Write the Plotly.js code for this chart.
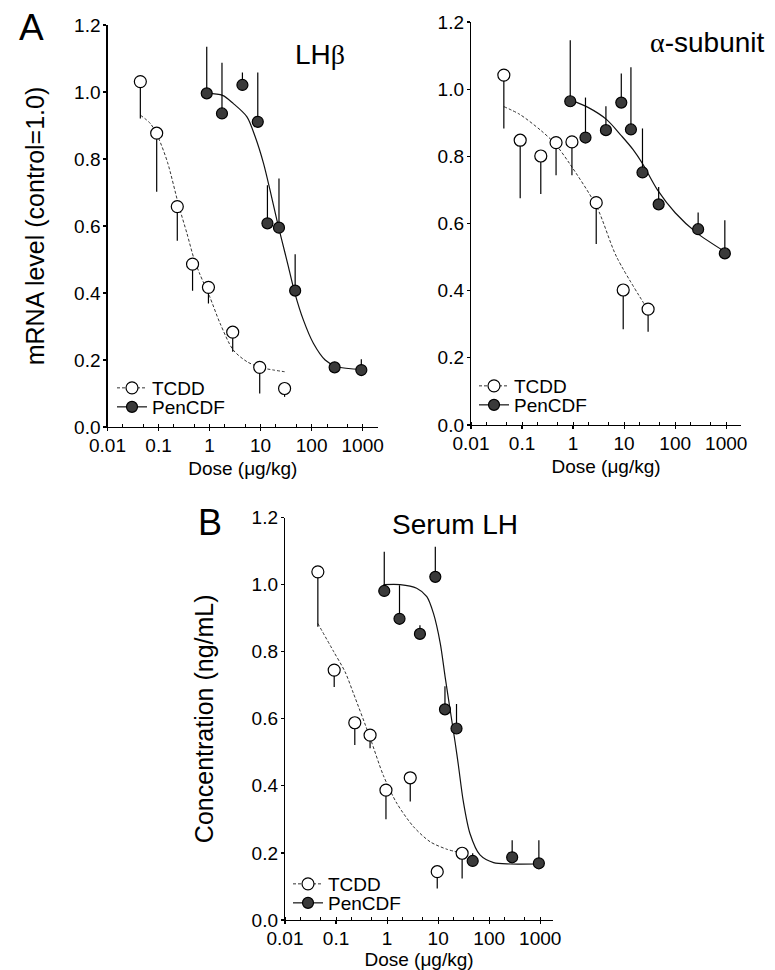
<!DOCTYPE html>
<html><head><meta charset="utf-8">
<script src="https://cdn.plot.ly/plotly-3.0.1.min.js"></script>
<style>html,body{margin:0;padding:0;background:#fff}</style>
</head><body><div id="chart" style="width:775px;height:970px"></div>
<script>
// ---------- data ----------
const tcddDose = [0.044, 0.092, 0.233, 0.464, 0.95, 2.84, 9.6, 29.5];
const penDose  = [0.88, 1.75, 4.4, 8.8, 13.6, 22.9, 47.5, 282, 940];

// LH beta
const lhbTcddVal  = [1.031, 0.877, 0.658, 0.486, 0.417, 0.283, 0.178, 0.115];
const lhbTcddErr  = [0.110, 0.175, 0.102, 0.079, 0.048, 0.058, 0.078, 0.025];
const lhbPenVal   = [0.996, 0.936, 1.021, 0.911, 0.608, 0.595, 0.407, 0.178, 0.170];
const lhbPenErr   = [0.139, 0.151, 0.037, 0.147, 0.114, 0.147, 0.109, 0.010, 0.032];
const lhbTcddFitDose = [0.044, 0.07, 0.1, 0.15, 0.25, 0.36, 0.5, 0.65, 1.0, 1.6, 2.9, 5.4, 9.8, 18, 29.5];
const lhbTcddFitVal  = [0.931, 0.905, 0.862, 0.79, 0.66, 0.578, 0.50, 0.455, 0.39, 0.31, 0.23, 0.195, 0.178, 0.170, 0.165];
const lhbPenFitDose = [0.88, 1.8, 2.9, 5.4, 7.8, 11.4, 15.3, 20.8, 26, 35, 47, 69, 108, 184, 310, 1000];
const lhbPenFitVal  = [0.996, 0.99, 0.966, 0.926, 0.867, 0.787, 0.707, 0.618, 0.558, 0.479, 0.399, 0.319, 0.250, 0.200, 0.180, 0.172];

// alpha subunit
const alphaTcddVal = [1.042, 0.848, 0.801, 0.841, 0.843, 0.662, 0.402, 0.345];
const alphaTcddErr = [0.159, 0.173, 0.113, 0.097, 0.099, 0.123, 0.117, 0.067];
const alphaPenVal  = [0.964, 0.856, 0.878, 0.960, 0.880, 0.752, 0.657, 0.583, 0.511];
const alphaPenErr  = [0.182, 0.119, 0.071, 0.087, 0.185, 0.131, 0.052, 0.050, 0.099];
const alphaTcddFitDose = [0.044, 0.09, 0.23, 0.44, 0.85, 2.9, 7.1, 29.5];
const alphaTcddFitVal  = [0.948, 0.925, 0.878, 0.838, 0.779, 0.650, 0.501, 0.342];
const alphaPenFitDose = [0.88, 2, 4.5, 9, 15, 23, 45, 100, 265, 940];
const alphaPenFitVal  = [0.968, 0.945, 0.91, 0.86, 0.82, 0.778, 0.70, 0.632, 0.572, 0.516];

// serum LH
const serumTcddVal = [1.038, 0.745, 0.588, 0.551, 0.387, 0.424, 0.144, 0.199];
const serumTcddErr = [0.164, 0.050, 0.066, 0.039, 0.087, 0.071, 0.050, 0.075];
const serumPenVal  = [0.981, 0.898, 0.853, 1.023, 0.628, 0.571, 0.176, 0.187, 0.169];
const serumPenErr  = [0.117, 0.100, 0.026, 0.090, 0.069, 0.073, 0.023, 0.051, 0.069];
const serumTcddFitDose = [0.044, 0.09, 0.15, 0.22, 0.46, 0.85, 1.55, 3.3, 7.0, 14.8, 28];
const serumTcddFitVal  = [0.884, 0.80, 0.74, 0.675, 0.545, 0.43, 0.348, 0.278, 0.233, 0.211, 0.200];
const serumPenFitDose = [0.85, 1.8, 3.8, 6.0, 8.1, 11, 13.7, 17.2, 21.5, 25, 31, 42, 66, 122, 258, 940];
const serumPenFitVal  = [1.0, 1.0, 0.989, 0.964, 0.914, 0.825, 0.725, 0.626, 0.53, 0.46, 0.355, 0.258, 0.194, 0.171, 0.167, 0.167];

const xTickVals = [0.01, 0.1, 1, 10, 100, 1000];
const xTickText = ['0.01', '0.1', '1', '10', '100', '1000'];
const seriesNames = ['TCDD', 'PenCDF'];

// ---------- styling ----------
const FONT = 'Liberation Sans, Arial, Helvetica, sans-serif';
const tcddMarker = {symbol:'circle', size:12, color:'#ffffff', line:{color:'#000', width:1.2}};
const penMarker  = {symbol:'circle', size:11, color:'#3a3a3a', line:{color:'#000', width:1.2}};
const tcddLine = {color:'#333', width:1, dash:'3px,2px', shape:'spline', smoothing:0.8};
const penLine  = {color:'#111', width:1.2, shape:'spline', smoothing:0.8};

function zeros(a){ return a.map(() => 0); }

function panel(ax, tDose, tVal, tErr, pDose, pVal, pErr, tfx, tfy, pfx, pfy, legT, legP){
  const xa = 'x' + ax, ya = 'y' + ax;
  return [
    {x:tfx, y:tfy, xaxis:xa, yaxis:ya, mode:'lines', line:tcddLine, showlegend:false, hoverinfo:'skip'},
    {x:pfx, y:pfy, xaxis:xa, yaxis:ya, mode:'lines', line:penLine, showlegend:false, hoverinfo:'skip'},
    {x:tDose, y:tVal, xaxis:xa, yaxis:ya, mode:'markers', marker:tcddMarker, showlegend:false,
     error_y:{type:'data', symmetric:false, array:zeros(tErr), arrayminus:tErr, color:'#000', thickness:1.2, width:0}},
    {x:pDose, y:pVal, xaxis:xa, yaxis:ya, mode:'markers', marker:penMarker, showlegend:false,
     error_y:{type:'data', symmetric:false, array:pErr, arrayminus:zeros(pErr), color:'#000', thickness:1.2, width:0}},
    {x:[null], y:[null], xaxis:xa, yaxis:ya, name:seriesNames[0], mode:'lines+markers', marker:tcddMarker,
     line:{color:'#333', width:1, dash:'3px,2px'}, legend:legT},
    {x:[null], y:[null], xaxis:xa, yaxis:ya, name:seriesNames[1], mode:'lines+markers', marker:penMarker,
     line:{color:'#111', width:1.2}, legend:legP}
  ];
}

const data = [].concat(
  panel('', tcddDose, lhbTcddVal, lhbTcddErr, penDose, lhbPenVal, lhbPenErr,
        lhbTcddFitDose, lhbTcddFitVal, lhbPenFitDose, lhbPenFitVal, 'legend', 'legend2'),
  panel('2', tcddDose, alphaTcddVal, alphaTcddErr, penDose, alphaPenVal, alphaPenErr,
        alphaTcddFitDose, alphaTcddFitVal, alphaPenFitDose, alphaPenFitVal, 'legend3', 'legend4'),
  panel('3', tcddDose, serumTcddVal, serumTcddErr, penDose, serumPenVal, serumPenErr,
        serumTcddFitDose, serumTcddFitVal, serumPenFitDose, serumPenFitVal, 'legend5', 'legend6')
);

const W = 775, H = 970;
const px = v => v / W, py = v => 1 - v / H;

function xAxis(anchor, d0, d1, r1, standoff){
  return {
    type:'log', range:[-2, r1], domain:[px(d0), px(d1)], anchor:anchor,
    showline:true, linecolor:'#000', linewidth:1.2, mirror:false,
    ticks:'outside', ticklen:3, tickwidth:1.2, tickcolor:'#000', ticklabelstandoff:-2,
    tickmode:'array', tickvals:xTickVals, ticktext:xTickText,
    tickfont:{size:19, family:FONT, color:'#000'},
    minor:{ticks:'inside', ticklen:3, tickwidth:1, tickcolor:'#000', showgrid:false},
    showgrid:false, zeroline:false,
    title:{text:'Dose (μg/kg)', font:{size:19, family:FONT, color:'#000'}, standoff:standoff}
  };
}
function yAxis(anchor, top, bottom, title, standoff){
  const a = {
    range:[0, 1.2], domain:[py(bottom), py(top)], anchor:anchor,
    showline:true, linecolor:'#000', linewidth:1.2,
    ticks:'outside', ticklen:3, tickwidth:1.2, tickcolor:'#000', ticklabelstandoff:-1,
    dtick:0.2, tick0:0, tickformat:'.1f',
    tickfont:{size:19, family:FONT, color:'#000'},
    showgrid:false, zeroline:false
  };
  if (title) a.title = {text:title, font:{size:25, family:FONT, color:'#000'}, standoff:standoff};
  return a;
}
function leg(x, y){
  return {x:px(x), y:py(y), xanchor:'left', yanchor:'middle', bgcolor:'rgba(0,0,0,0)',
          borderwidth:0, font:{size:19, family:FONT, color:'#000'}, itemwidth:30};
}
function ann(text, x, y, size){
  return {text:text, x:px(x), y:py(y), xref:'paper', yref:'paper', xanchor:'center', yanchor:'middle',
          showarrow:false, font:{size:size, family:FONT, color:'#000'}};
}

const layout = {
  width:W, height:H, margin:{l:0, r:0, t:0, b:0},
  paper_bgcolor:'#fff', plot_bgcolor:'#fff',
  font:{family:FONT, color:'#000'},
  xaxis: xAxis('y', 107.5, 378, 3.3, 6),
  yaxis: yAxis('x', 25, 427, 'mRNA level (control=1.0)', 22),
  xaxis2: xAxis('y2', 471, 741, 3.29, 6),
  yaxis2: yAxis('x2', 22, 425, null),
  xaxis3: xAxis('y3', 285, 553, 3.25, 5),
  yaxis3: yAxis('x3', 517.5, 920, 'Concentration (ng/mL)', 30),
  legend: leg(112, 388), legend2: leg(112, 407),
  legend3: leg(474, 386), legend4: leg(474, 405),
  legend5: leg(288, 884), legend6: leg(288, 903),
  annotations:[
    ann('A', 31, 27, 37),
    ann('B', 210, 522, 36),
    ann('LH<span style="font-family:Liberation Serif">β</span>', 320, 54, 28),
    ann('<span style="font-family:Liberation Serif">α</span>-subunit', 707, 43, 28),
    ann('Serum LH', 455, 524, 28)
  ]
};

Plotly.newPlot('chart', data, layout, {displayModeBar:false, staticPlot:true});
</script></body></html>
